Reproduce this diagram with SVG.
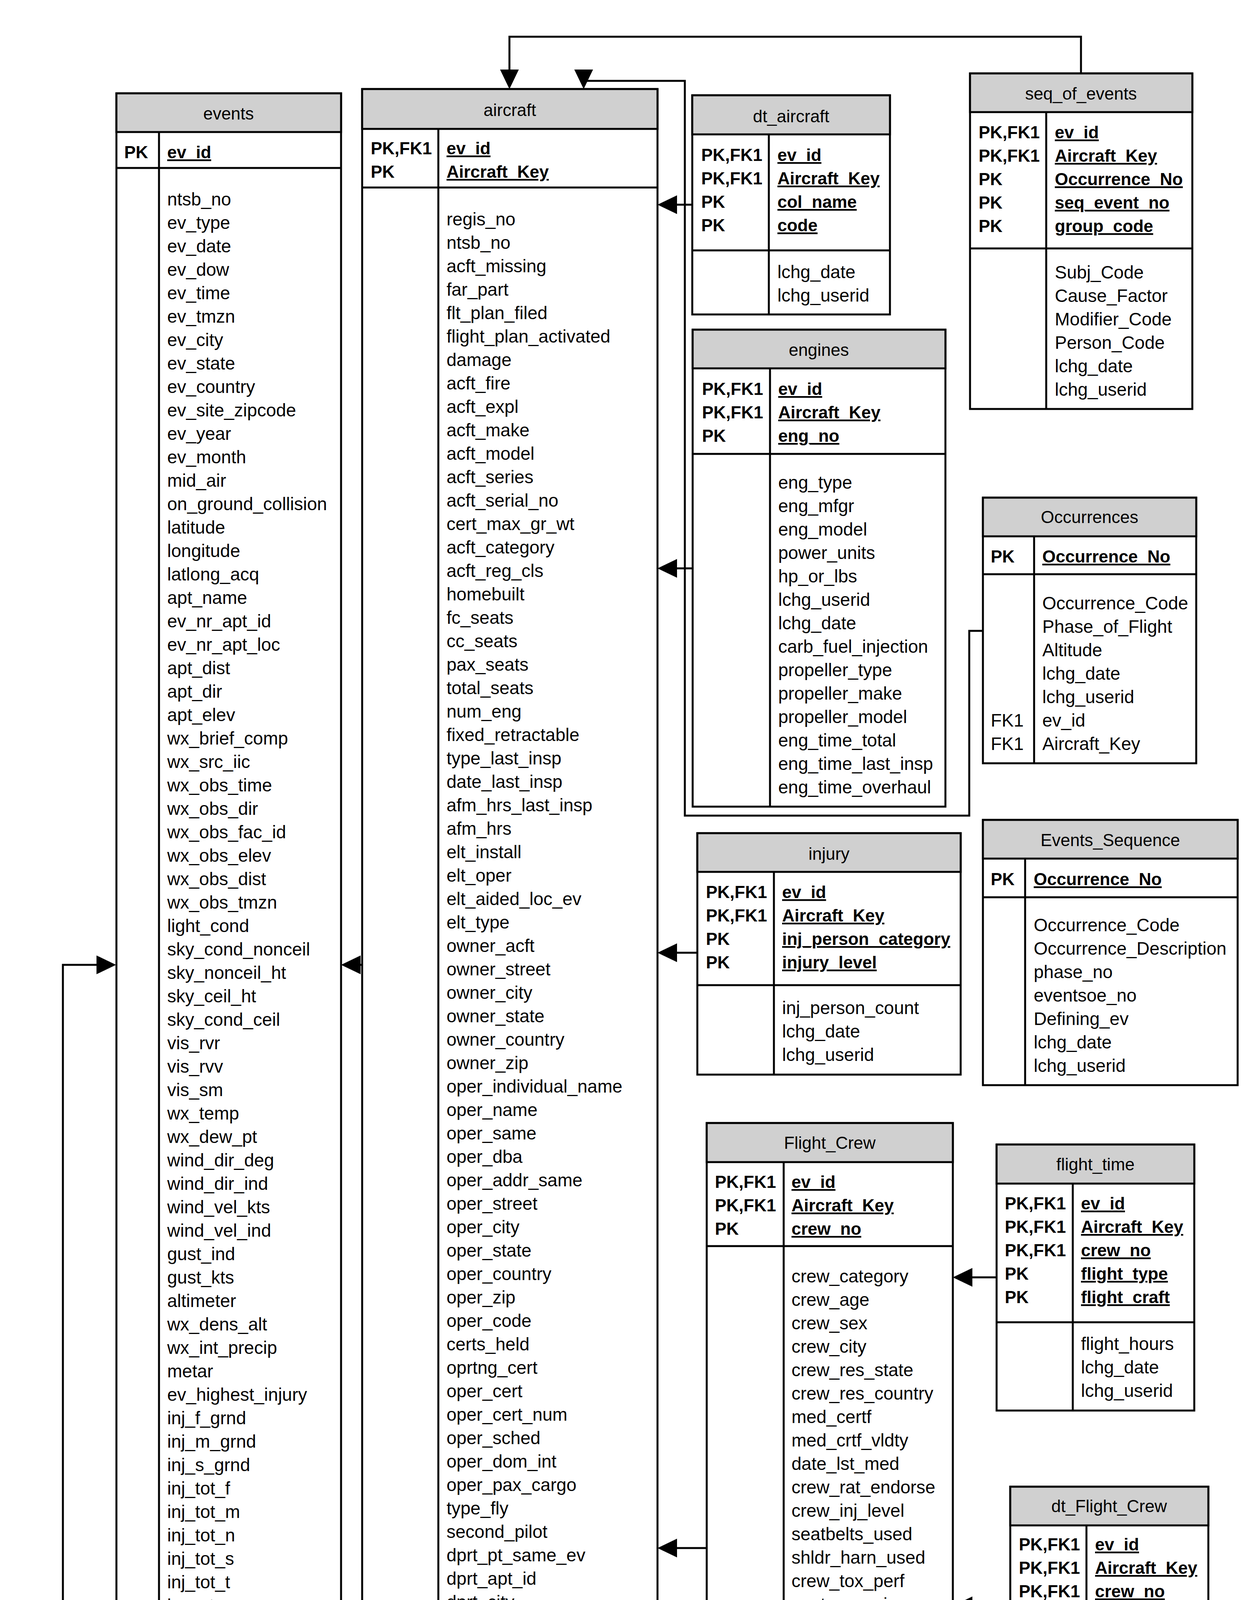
<svg xmlns="http://www.w3.org/2000/svg" width="3215" height="6183" viewBox="0 0 3215 6183">
<defs>
<style>
.bx{fill:#fff;stroke:#000;stroke-width:5}
.hd{fill:#d0d0d0;stroke:#000;stroke-width:5}
.ln{stroke:#000;stroke-width:5;fill:none}
.cn{stroke:#000;stroke-width:5;fill:none;marker-end:url(#ah)}
text{font-family:"Liberation Sans",Arial,sans-serif;font-size:46px;fill:#000}
.h{font-size:44px;text-anchor:middle}
.k{font-size:44px;font-weight:bold}
.u{text-decoration:underline}
</style>
<marker id="ah" viewBox="0 0 50 48" refX="30" refY="24" markerWidth="50" markerHeight="48" markerUnits="userSpaceOnUse" orient="auto"><path d="M0,0 L50,24 L0,48 z" fill="#000"/></marker>
</defs>
<rect width="3215" height="6183" fill="#fff"/>

<g id="events">
<rect class="bx" x="298" y="239" width="575" height="4460"/>
<rect class="hd" x="298" y="239" width="575" height="99"/>
<line class="ln" x1="298" y1="430" x2="873" y2="430"/>
<line class="ln" x1="407" y1="338" x2="407" y2="4699"/>
<text class="h" x="585" y="306">events</text>
<text class="k" x="318" y="405">PK</text>
<text class="k u" x="428" y="405">ev_id</text>
<text x="428" y="526"><tspan x="428">ntsb_no</tspan><tspan x="428" dy="60">ev_type</tspan><tspan x="428" dy="60">ev_date</tspan><tspan x="428" dy="60">ev_dow</tspan><tspan x="428" dy="60">ev_time</tspan><tspan x="428" dy="60">ev_tmzn</tspan><tspan x="428" dy="60">ev_city</tspan><tspan x="428" dy="60">ev_state</tspan><tspan x="428" dy="60">ev_country</tspan><tspan x="428" dy="60">ev_site_zipcode</tspan><tspan x="428" dy="60">ev_year</tspan><tspan x="428" dy="60">ev_month</tspan><tspan x="428" dy="60">mid_air</tspan><tspan x="428" dy="60">on_ground_collision</tspan><tspan x="428" dy="60">latitude</tspan><tspan x="428" dy="60">longitude</tspan><tspan x="428" dy="60">latlong_acq</tspan><tspan x="428" dy="60">apt_name</tspan><tspan x="428" dy="60">ev_nr_apt_id</tspan><tspan x="428" dy="60">ev_nr_apt_loc</tspan><tspan x="428" dy="60">apt_dist</tspan><tspan x="428" dy="60">apt_dir</tspan><tspan x="428" dy="60">apt_elev</tspan><tspan x="428" dy="60">wx_brief_comp</tspan><tspan x="428" dy="60">wx_src_iic</tspan><tspan x="428" dy="60">wx_obs_time</tspan><tspan x="428" dy="60">wx_obs_dir</tspan><tspan x="428" dy="60">wx_obs_fac_id</tspan><tspan x="428" dy="60">wx_obs_elev</tspan><tspan x="428" dy="60">wx_obs_dist</tspan><tspan x="428" dy="60">wx_obs_tmzn</tspan><tspan x="428" dy="60">light_cond</tspan><tspan x="428" dy="60">sky_cond_nonceil</tspan><tspan x="428" dy="60">sky_nonceil_ht</tspan><tspan x="428" dy="60">sky_ceil_ht</tspan><tspan x="428" dy="60">sky_cond_ceil</tspan><tspan x="428" dy="60">vis_rvr</tspan><tspan x="428" dy="60">vis_rvv</tspan><tspan x="428" dy="60">vis_sm</tspan><tspan x="428" dy="60">wx_temp</tspan><tspan x="428" dy="60">wx_dew_pt</tspan><tspan x="428" dy="60">wind_dir_deg</tspan><tspan x="428" dy="60">wind_dir_ind</tspan><tspan x="428" dy="60">wind_vel_kts</tspan><tspan x="428" dy="60">wind_vel_ind</tspan><tspan x="428" dy="60">gust_ind</tspan><tspan x="428" dy="60">gust_kts</tspan><tspan x="428" dy="60">altimeter</tspan><tspan x="428" dy="60">wx_dens_alt</tspan><tspan x="428" dy="60">wx_int_precip</tspan><tspan x="428" dy="60">metar</tspan><tspan x="428" dy="60">ev_highest_injury</tspan><tspan x="428" dy="60">inj_f_grnd</tspan><tspan x="428" dy="60">inj_m_grnd</tspan><tspan x="428" dy="60">inj_s_grnd</tspan><tspan x="428" dy="60">inj_tot_f</tspan><tspan x="428" dy="60">inj_tot_m</tspan><tspan x="428" dy="60">inj_tot_n</tspan><tspan x="428" dy="60">inj_tot_s</tspan><tspan x="428" dy="60">inj_tot_t</tspan><tspan x="428" dy="60">invest_agy</tspan><tspan x="428" dy="60">ntsb_docket</tspan><tspan x="428" dy="60">ntsb_notf_from</tspan><tspan x="428" dy="60">ntsb_notf_date</tspan><tspan x="428" dy="60">ntsb_notf_tm</tspan><tspan x="428" dy="60">fiche_number</tspan><tspan x="428" dy="60">lchg_date</tspan><tspan x="428" dy="60">lchg_userid</tspan><tspan x="428" dy="60">wx_cond_basic</tspan><tspan x="428" dy="60">faa_dist_office</tspan></text>
</g>

<g id="aircraft">
<rect class="bx" x="927" y="228" width="756" height="5783"/>
<rect class="hd" x="927" y="228" width="756" height="102"/>
<line class="ln" x1="927" y1="480" x2="1683" y2="480"/>
<line class="ln" x1="1122" y1="330" x2="1122" y2="6011"/>
<text class="h" x="1305" y="297">aircraft</text>
<text class="k" x="949" y="395"><tspan x="949">PK,FK1</tspan><tspan x="949" dy="60">PK</tspan></text>
<text class="k u" x="1143" y="395"><tspan x="1143">ev_id</tspan><tspan x="1143" dy="60">Aircraft_Key</tspan></text>
<text x="1143" y="577"><tspan x="1143">regis_no</tspan><tspan x="1143" dy="60">ntsb_no</tspan><tspan x="1143" dy="60">acft_missing</tspan><tspan x="1143" dy="60">far_part</tspan><tspan x="1143" dy="60">flt_plan_filed</tspan><tspan x="1143" dy="60">flight_plan_activated</tspan><tspan x="1143" dy="60">damage</tspan><tspan x="1143" dy="60">acft_fire</tspan><tspan x="1143" dy="60">acft_expl</tspan><tspan x="1143" dy="60">acft_make</tspan><tspan x="1143" dy="60">acft_model</tspan><tspan x="1143" dy="60">acft_series</tspan><tspan x="1143" dy="60">acft_serial_no</tspan><tspan x="1143" dy="60">cert_max_gr_wt</tspan><tspan x="1143" dy="60">acft_category</tspan><tspan x="1143" dy="60">acft_reg_cls</tspan><tspan x="1143" dy="60">homebuilt</tspan><tspan x="1143" dy="60">fc_seats</tspan><tspan x="1143" dy="60">cc_seats</tspan><tspan x="1143" dy="60">pax_seats</tspan><tspan x="1143" dy="60">total_seats</tspan><tspan x="1143" dy="60">num_eng</tspan><tspan x="1143" dy="60">fixed_retractable</tspan><tspan x="1143" dy="60">type_last_insp</tspan><tspan x="1143" dy="60">date_last_insp</tspan><tspan x="1143" dy="60">afm_hrs_last_insp</tspan><tspan x="1143" dy="60">afm_hrs</tspan><tspan x="1143" dy="60">elt_install</tspan><tspan x="1143" dy="60">elt_oper</tspan><tspan x="1143" dy="60">elt_aided_loc_ev</tspan><tspan x="1143" dy="60">elt_type</tspan><tspan x="1143" dy="60">owner_acft</tspan><tspan x="1143" dy="60">owner_street</tspan><tspan x="1143" dy="60">owner_city</tspan><tspan x="1143" dy="60">owner_state</tspan><tspan x="1143" dy="60">owner_country</tspan><tspan x="1143" dy="60">owner_zip</tspan><tspan x="1143" dy="60">oper_individual_name</tspan><tspan x="1143" dy="60">oper_name</tspan><tspan x="1143" dy="60">oper_same</tspan><tspan x="1143" dy="60">oper_dba</tspan><tspan x="1143" dy="60">oper_addr_same</tspan><tspan x="1143" dy="60">oper_street</tspan><tspan x="1143" dy="60">oper_city</tspan><tspan x="1143" dy="60">oper_state</tspan><tspan x="1143" dy="60">oper_country</tspan><tspan x="1143" dy="60">oper_zip</tspan><tspan x="1143" dy="60">oper_code</tspan><tspan x="1143" dy="60">certs_held</tspan><tspan x="1143" dy="60">oprtng_cert</tspan><tspan x="1143" dy="60">oper_cert</tspan><tspan x="1143" dy="60">oper_cert_num</tspan><tspan x="1143" dy="60">oper_sched</tspan><tspan x="1143" dy="60">oper_dom_int</tspan><tspan x="1143" dy="60">oper_pax_cargo</tspan><tspan x="1143" dy="60">type_fly</tspan><tspan x="1143" dy="60">second_pilot</tspan><tspan x="1143" dy="60">dprt_pt_same_ev</tspan><tspan x="1143" dy="60">dprt_apt_id</tspan><tspan x="1143" dy="60">dprt_city</tspan><tspan x="1143" dy="60">dprt_state</tspan><tspan x="1143" dy="60">dprt_country</tspan><tspan x="1143" dy="60">dprt_time</tspan><tspan x="1143" dy="60">dprt_timezn</tspan><tspan x="1143" dy="60">dest_same_local</tspan><tspan x="1143" dy="60">dest_apt_id</tspan><tspan x="1143" dy="60">dest_city</tspan><tspan x="1143" dy="60">dest_state</tspan><tspan x="1143" dy="60">dest_country</tspan><tspan x="1143" dy="60">phase_flt_spec</tspan><tspan x="1143" dy="60">report_to_icao</tspan><tspan x="1143" dy="60">evacuation</tspan><tspan x="1143" dy="60">lchg_date</tspan><tspan x="1143" dy="60">lchg_userid</tspan><tspan x="1143" dy="60">afm_hrs_since</tspan><tspan x="1143" dy="60">rwy_num</tspan><tspan x="1143" dy="60">rwy_len</tspan><tspan x="1143" dy="60">rwy_width</tspan><tspan x="1143" dy="60">site_seeing</tspan><tspan x="1143" dy="60">air_medical</tspan><tspan x="1143" dy="60">med_type_flight</tspan><tspan x="1143" dy="60">acft_year</tspan><tspan x="1143" dy="60">fuel_on_board</tspan><tspan x="1143" dy="60">commercial_space_flight</tspan><tspan x="1143" dy="60">unmanned</tspan><tspan x="1143" dy="60">ifr_equipped_cert</tspan><tspan x="1143" dy="60">elt_mounted_aircraft</tspan><tspan x="1143" dy="60">elt_connected_antenna</tspan><tspan x="1143" dy="60">elt_manufacturer</tspan><tspan x="1143" dy="60">elt_model</tspan><tspan x="1143" dy="60">elt_reason_other</tspan></text>
</g>

<g id="dt_aircraft">
<rect class="bx" x="1772" y="244" width="506" height="561"/>
<rect class="hd" x="1772" y="244" width="506" height="100"/>
<line class="ln" x1="1772" y1="641" x2="2278" y2="641"/>
<line class="ln" x1="1968" y1="344" x2="1968" y2="805"/>
<text class="h" x="2025" y="313">dt_aircraft</text>
<text class="k" x="1795" y="412"><tspan x="1795">PK,FK1</tspan><tspan x="1795" dy="60">PK,FK1</tspan><tspan x="1795" dy="60">PK</tspan><tspan x="1795" dy="60">PK</tspan></text>
<text class="k u" x="1990" y="412"><tspan x="1990">ev_id</tspan><tspan x="1990" dy="60">Aircraft_Key</tspan><tspan x="1990" dy="60">col_name</tspan><tspan x="1990" dy="60">code</tspan></text>
<text x="1990" y="712"><tspan x="1990">lchg_date</tspan><tspan x="1990" dy="60">lchg_userid</tspan></text>
</g>

<g id="seq_of_events">
<rect class="bx" x="2483" y="188" width="569" height="859"/>
<rect class="hd" x="2483" y="188" width="569" height="99"/>
<line class="ln" x1="2483" y1="636" x2="3052" y2="636"/>
<line class="ln" x1="2678" y1="287" x2="2678" y2="1047"/>
<text class="h" x="2767" y="255">seq_of_events</text>
<text class="k" x="2505" y="354"><tspan x="2505">PK,FK1</tspan><tspan x="2505" dy="60">PK,FK1</tspan><tspan x="2505" dy="60">PK</tspan><tspan x="2505" dy="60">PK</tspan><tspan x="2505" dy="60">PK</tspan></text>
<text class="k u" x="2700" y="354"><tspan x="2700">ev_id</tspan><tspan x="2700" dy="60">Aircraft_Key</tspan><tspan x="2700" dy="60">Occurrence_No</tspan><tspan x="2700" dy="60">seq_event_no</tspan><tspan x="2700" dy="60">group_code</tspan></text>
<text x="2700" y="713"><tspan x="2700">Subj_Code</tspan><tspan x="2700" dy="60">Cause_Factor</tspan><tspan x="2700" dy="60">Modifier_Code</tspan><tspan x="2700" dy="60">Person_Code</tspan><tspan x="2700" dy="60">lchg_date</tspan><tspan x="2700" dy="60">lchg_userid</tspan></text>
</g>

<g id="engines">
<rect class="bx" x="1773" y="844" width="647" height="1221"/>
<rect class="hd" x="1773" y="844" width="647" height="99"/>
<line class="ln" x1="1773" y1="1162" x2="2420" y2="1162"/>
<line class="ln" x1="1971" y1="943" x2="1971" y2="2065"/>
<text class="h" x="2096" y="911">engines</text>
<text class="k" x="1797" y="1011"><tspan x="1797">PK,FK1</tspan><tspan x="1797" dy="60">PK,FK1</tspan><tspan x="1797" dy="60">PK</tspan></text>
<text class="k u" x="1992" y="1011"><tspan x="1992">ev_id</tspan><tspan x="1992" dy="60">Aircraft_Key</tspan><tspan x="1992" dy="60">eng_no</tspan></text>
<text x="1992" y="1251"><tspan x="1992">eng_type</tspan><tspan x="1992" dy="60">eng_mfgr</tspan><tspan x="1992" dy="60">eng_model</tspan><tspan x="1992" dy="60">power_units</tspan><tspan x="1992" dy="60">hp_or_lbs</tspan><tspan x="1992" dy="60">lchg_userid</tspan><tspan x="1992" dy="60">lchg_date</tspan><tspan x="1992" dy="60">carb_fuel_injection</tspan><tspan x="1992" dy="60">propeller_type</tspan><tspan x="1992" dy="60">propeller_make</tspan><tspan x="1992" dy="60">propeller_model</tspan><tspan x="1992" dy="60">eng_time_total</tspan><tspan x="1992" dy="60">eng_time_last_insp</tspan><tspan x="1992" dy="60">eng_time_overhaul</tspan></text>
</g>

<g id="Occurrences">
<rect class="bx" x="2516" y="1274" width="546" height="680"/>
<rect class="hd" x="2516" y="1274" width="546" height="99"/>
<line class="ln" x1="2516" y1="1470" x2="3062" y2="1470"/>
<line class="ln" x1="2647" y1="1373" x2="2647" y2="1954"/>
<text class="h" x="2789" y="1339">Occurrences</text>
<text class="k" x="2536" y="1440">PK</text>
<text class="k u" x="2668" y="1440">Occurrence_No</text>
<text x="2536" y="1860"><tspan x="2536">FK1</tspan><tspan x="2536" dy="60">FK1</tspan></text>
<text x="2668" y="1560"><tspan x="2668">Occurrence_Code</tspan><tspan x="2668" dy="60">Phase_of_Flight</tspan><tspan x="2668" dy="60">Altitude</tspan><tspan x="2668" dy="60">lchg_date</tspan><tspan x="2668" dy="60">lchg_userid</tspan><tspan x="2668" dy="60">ev_id</tspan><tspan x="2668" dy="60">Aircraft_Key</tspan></text>
</g>

<g id="injury">
<rect class="bx" x="1785" y="2133" width="674" height="618"/>
<rect class="hd" x="1785" y="2133" width="674" height="99"/>
<line class="ln" x1="1785" y1="2522" x2="2459" y2="2522"/>
<line class="ln" x1="1981" y1="2232" x2="1981" y2="2751"/>
<text class="h" x="2122" y="2201">injury</text>
<text class="k" x="1807" y="2299"><tspan x="1807">PK,FK1</tspan><tspan x="1807" dy="60">PK,FK1</tspan><tspan x="1807" dy="60">PK</tspan><tspan x="1807" dy="60">PK</tspan></text>
<text class="k u" x="2002" y="2299"><tspan x="2002">ev_id</tspan><tspan x="2002" dy="60">Aircraft_Key</tspan><tspan x="2002" dy="60">inj_person_category</tspan><tspan x="2002" dy="60">injury_level</tspan></text>
<text x="2002" y="2596"><tspan x="2002">inj_person_count</tspan><tspan x="2002" dy="60">lchg_date</tspan><tspan x="2002" dy="60">lchg_userid</tspan></text>
</g>

<g id="Events_Sequence">
<rect class="bx" x="2516" y="2099" width="652" height="679"/>
<rect class="hd" x="2516" y="2099" width="652" height="99"/>
<line class="ln" x1="2516" y1="2297" x2="3168" y2="2297"/>
<line class="ln" x1="2624" y1="2198" x2="2624" y2="2778"/>
<text class="h" x="2842" y="2166">Events_Sequence</text>
<text class="k" x="2536" y="2266">PK</text>
<text class="k u" x="2646" y="2266">Occurrence_No</text>
<text x="2646" y="2384"><tspan x="2646">Occurrence_Code</tspan><tspan x="2646" dy="60">Occurrence_Description</tspan><tspan x="2646" dy="60">phase_no</tspan><tspan x="2646" dy="60">eventsoe_no</tspan><tspan x="2646" dy="60">Defining_ev</tspan><tspan x="2646" dy="60">lchg_date</tspan><tspan x="2646" dy="60">lchg_userid</tspan></text>
</g>

<g id="Flight_Crew">
<rect class="bx" x="1809" y="2875" width="630" height="2181"/>
<rect class="hd" x="1809" y="2875" width="630" height="100"/>
<line class="ln" x1="1809" y1="3190" x2="2439" y2="3190"/>
<line class="ln" x1="2006" y1="2975" x2="2006" y2="5056"/>
<text class="h" x="2124" y="2941">Flight_Crew</text>
<text class="k" x="1830" y="3041"><tspan x="1830">PK,FK1</tspan><tspan x="1830" dy="60">PK,FK1</tspan><tspan x="1830" dy="60">PK</tspan></text>
<text class="k u" x="2026" y="3041"><tspan x="2026">ev_id</tspan><tspan x="2026" dy="60">Aircraft_Key</tspan><tspan x="2026" dy="60">crew_no</tspan></text>
<text x="2026" y="3283"><tspan x="2026">crew_category</tspan><tspan x="2026" dy="60">crew_age</tspan><tspan x="2026" dy="60">crew_sex</tspan><tspan x="2026" dy="60">crew_city</tspan><tspan x="2026" dy="60">crew_res_state</tspan><tspan x="2026" dy="60">crew_res_country</tspan><tspan x="2026" dy="60">med_certf</tspan><tspan x="2026" dy="60">med_crtf_vldty</tspan><tspan x="2026" dy="60">date_lst_med</tspan><tspan x="2026" dy="60">crew_rat_endorse</tspan><tspan x="2026" dy="60">crew_inj_level</tspan><tspan x="2026" dy="60">seatbelts_used</tspan><tspan x="2026" dy="60">shldr_harn_used</tspan><tspan x="2026" dy="60">crew_tox_perf</tspan><tspan x="2026" dy="60">seat_occ_pic</tspan><tspan x="2026" dy="60">pc_profession</tspan><tspan x="2026" dy="60">bfr</tspan><tspan x="2026" dy="60">bfr_date</tspan><tspan x="2026" dy="60">ft_as_of</tspan><tspan x="2026" dy="60">lchg_date</tspan><tspan x="2026" dy="60">lchg_userid</tspan><tspan x="2026" dy="60">seat_occ_row</tspan><tspan x="2026" dy="60">infl_rest_inst</tspan><tspan x="2026" dy="60">infl_rest_depl</tspan><tspan x="2026" dy="60">child_restraint</tspan><tspan x="2026" dy="60">med_crtf_limit</tspan><tspan x="2026" dy="60">mr_faa_med_certf</tspan><tspan x="2026" dy="60">pilot_flying</tspan><tspan x="2026" dy="60">available_restraint</tspan><tspan x="2026" dy="60">restraint_used</tspan></text>
</g>

<g id="flight_time">
<rect class="bx" x="2551" y="2930" width="506" height="681"/>
<rect class="hd" x="2551" y="2930" width="506" height="100"/>
<line class="ln" x1="2551" y1="3385" x2="3057" y2="3385"/>
<line class="ln" x1="2746" y1="3030" x2="2746" y2="3611"/>
<text class="h" x="2804" y="2996">flight_time</text>
<text class="k" x="2572" y="3096"><tspan x="2572">PK,FK1</tspan><tspan x="2572" dy="60">PK,FK1</tspan><tspan x="2572" dy="60">PK,FK1</tspan><tspan x="2572" dy="60">PK</tspan><tspan x="2572" dy="60">PK</tspan></text>
<text class="k u" x="2767" y="3096"><tspan x="2767">ev_id</tspan><tspan x="2767" dy="60">Aircraft_Key</tspan><tspan x="2767" dy="60">crew_no</tspan><tspan x="2767" dy="60">flight_type</tspan><tspan x="2767" dy="60">flight_craft</tspan></text>
<text x="2767" y="3456"><tspan x="2767">flight_hours</tspan><tspan x="2767" dy="60">lchg_date</tspan><tspan x="2767" dy="60">lchg_userid</tspan></text>
</g>

<g id="dt_Flight_Crew">
<rect class="bx" x="2586" y="3806" width="507" height="617"/>
<rect class="hd" x="2586" y="3806" width="507" height="99"/>
<line class="ln" x1="2586" y1="4261" x2="3093" y2="4261"/>
<line class="ln" x1="2781" y1="3905" x2="2781" y2="4423"/>
<text class="h" x="2839" y="3871">dt_Flight_Crew</text>
<text class="k" x="2608" y="3969"><tspan x="2608">PK,FK1</tspan><tspan x="2608" dy="60">PK,FK1</tspan><tspan x="2608" dy="60">PK,FK1</tspan><tspan x="2608" dy="60">PK</tspan><tspan x="2608" dy="60">PK</tspan></text>
<text class="k u" x="2803" y="3969"><tspan x="2803">ev_id</tspan><tspan x="2803" dy="60">Aircraft_Key</tspan><tspan x="2803" dy="60">crew_no</tspan><tspan x="2803" dy="60">col_name</tspan><tspan x="2803" dy="60">code</tspan></text>
<text x="2803" y="4329"><tspan x="2803">lchg_date</tspan><tspan x="2803" dy="60">lchg_userid</tspan></text>
</g>

<g id="narratives">
<rect class="bx" x="2551" y="4763" width="506" height="680"/>
<rect class="hd" x="2551" y="4763" width="506" height="100"/>
<line class="ln" x1="2551" y1="5025" x2="3057" y2="5025"/>
<line class="ln" x1="2746" y1="4863" x2="2746" y2="5443"/>
<text class="h" x="2804" y="4829">narratives</text>
<text class="k" x="2572" y="4929"><tspan x="2572">PK,FK1</tspan><tspan x="2572" dy="60">PK,FK1</tspan></text>
<text class="k u" x="2767" y="4929"><tspan x="2767">ev_id</tspan><tspan x="2767" dy="60">Aircraft_Key</tspan></text>
<text x="2767" y="5109"><tspan x="2767">narr_accp</tspan><tspan x="2767" dy="60">narr_accf</tspan><tspan x="2767" dy="60">narr_cause</tspan><tspan x="2767" dy="60">narr_inc</tspan><tspan x="2767" dy="60">lchg_date</tspan><tspan x="2767" dy="60">lchg_userid</tspan></text>
</g>

<g id="Findings">
<rect class="bx" x="1744" y="5156" width="642" height="977"/>
<rect class="hd" x="1744" y="5156" width="642" height="97"/>
<line class="ln" x1="1744" y1="5474" x2="2386" y2="5474"/>
<line class="ln" x1="1941" y1="5253" x2="1941" y2="6133"/>
<text class="h" x="2065" y="5221">Findings</text>
<text class="k" x="1766" y="5322"><tspan x="1766">PK,FK1</tspan><tspan x="1766" dy="60">PK,FK1</tspan><tspan x="1766" dy="60">PK</tspan></text>
<text class="k u" x="1961" y="5322"><tspan x="1961">ev_id</tspan><tspan x="1961" dy="60">Aircraft_Key</tspan><tspan x="1961" dy="60">finding_no</tspan></text>
<text x="1961" y="5559"><tspan x="1961">finding_code</tspan><tspan x="1961" dy="60">finding_description</tspan><tspan x="1961" dy="60">category_no</tspan><tspan x="1961" dy="60">subcategory_no</tspan><tspan x="1961" dy="60">section_no</tspan><tspan x="1961" dy="60">subsection_no</tspan><tspan x="1961" dy="60">modifier_no</tspan><tspan x="1961" dy="60">Cause_Factor</tspan><tspan x="1961" dy="60">lchg_date</tspan><tspan x="1961" dy="60">lchg_userid</tspan></text>
</g>

<g id="NTSB_Admin">
<rect class="bx" x="314" y="4886" width="541" height="499"/>
<rect class="hd" x="314" y="4886" width="541" height="99"/>
<line class="ln" x1="314" y1="5086" x2="855" y2="5086"/>
<line class="ln" x1="508" y1="4985" x2="508" y2="5385"/>
<text class="h" x="584" y="4953">NTSB_Admin</text>
<text class="k" x="335" y="5053">PK,FK1</text>
<text class="k u" x="530" y="5053">ev_id</text>
<text class="k" x="530" y="5173">rec_stat</text>
<text x="530" y="5233"><tspan x="530">approval_date</tspan><tspan x="530" dy="60">lchg_userid</tspan><tspan x="530" dy="60">lchg_date</tspan></text>
</g>

<g id="dt_events">
<rect class="bx" x="321" y="5463" width="479" height="499"/>
<rect class="hd" x="321" y="5463" width="479" height="100"/>
<line class="ln" x1="321" y1="5796" x2="800" y2="5796"/>
<line class="ln" x1="516" y1="5563" x2="516" y2="5962"/>
<text class="h" x="560" y="5528">dt_events</text>
<text class="k" x="341" y="5629"><tspan x="341">PK,FK1</tspan><tspan x="341" dy="60">PK</tspan><tspan x="341" dy="60">PK</tspan></text>
<text class="k u" x="537" y="5629"><tspan x="537">ev_id</tspan><tspan x="537" dy="60">col_name</tspan><tspan x="537" dy="60">code</tspan></text>
<text x="537" y="5869"><tspan x="537">lchg_date</tspan><tspan x="537" dy="60">lchg_userid</tspan></text>
</g>

<g id="connectors">
<path class="cn" d="M2767,188 V94 H1304 V208"/>
<path class="cn" d="M2516,1615 H2481 V2088 H1753 V207 H1494 V208"/>
<path class="cn" d="M1772,524 H1703"/>
<path class="cn" d="M1773,1455 H1703"/>
<path class="cn" d="M1785,2439 H1703"/>
<path class="cn" d="M1809,3963 H1703"/>
<path class="cn" d="M2551,5106 H1703"/>
<path class="cn" d="M1744,5582 H1703"/>
<path class="cn" d="M2551,3270 H2459"/>
<path class="cn" d="M2586,4111 H2459"/>
<path class="cn" d="M927,2470 H893"/>
<path class="cn" d="M585,4886 V4719"/>
<path class="cn" d="M321,5712 H161 V2470 H277"/>
</g>
</svg>
